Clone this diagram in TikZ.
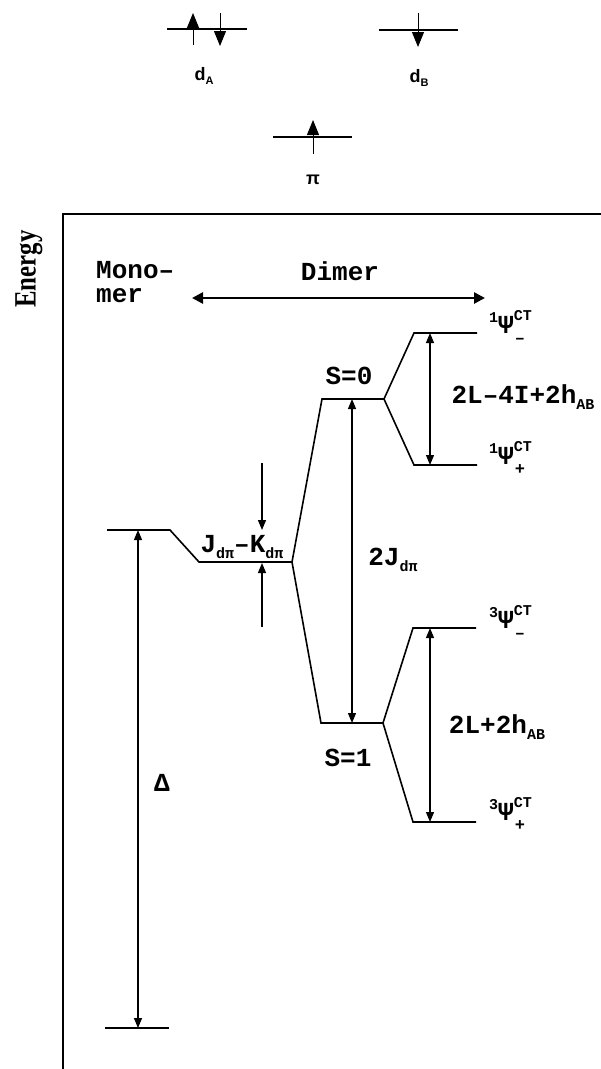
\documentclass[tikz,border=0pt]{standalone}
\usepackage{fontspec}
\setmainfont{Liberation Mono}
\newfontfamily\enfont{Liberation Serif}
\newfontfamily\lblfont{Liberation Sans}
\usetikzlibrary{arrows.meta}
\newcommand\fs[1]{\fontsize{#1}{#1}\selectfont}
\newcommand\sbs[1]{\raisebox{-0.45ex}{\fs{15}\bfseries #1}}
\newcommand\psil[2]{\raisebox{0.8ex}{\fs{15}#1}Ψ\rlap{\raisebox{0.95ex}{\fs{15}CT}}\raisebox{-0.75ex}{\makebox[18pt][l]{\fs{17}\kern1pt#2}}}
\tikzset{
  lvl/.style={line width=2pt},
  lvlthin/.style={line width=1.6pt},
  arr/.style={line width=1.2pt,-{Triangle[length=10pt,width=8pt]}},
  darr/.style={line width=1.2pt,{Triangle[length=10pt,width=8pt]}-{Triangle[length=10pt,width=8pt]}},
  spin/.style={line width=1pt,-{Triangle[length=15pt,width=12pt]}},
  txt/.style={inner sep=0pt,font=\fs{26}\bfseries},
  orb/.style={inner sep=0pt,font=\lblfont\bfseries\fs{18}}
}
\begin{document}
\begin{tikzpicture}[x=1pt,y=-1pt]
\useasboundingbox (0,0) rectangle (601,1069);
\fill[white] (0,0) rectangle (601,1069);

% ---- orbital occupations ----
\coordinate (aL) at (167,29); \coordinate (aR) at (247,29);
\coordinate (bbL) at (379,30); \coordinate (bbR) at (458,30);
\coordinate (pL) at (273,137); \coordinate (pR) at (352,137);
\draw[lvl] (aL) -- (aR);
\draw[lvl] (bbL) -- (bbR);
\draw[lvl] (pL) -- (pR);
\coordinate (a1s) at (193,45); \coordinate (a1e) at (193,13);
\coordinate (a2s) at (220,13); \coordinate (a2e) at (220,46);
\coordinate (b1s) at (418,13); \coordinate (b1e) at (418,47);
\coordinate (p1s) at (313,154); \coordinate (p1e) at (313,120);
\draw[spin] (a1s) -- (a1e);
\draw[spin] (a2s) -- (a2e);
\draw[spin] (b1s) -- (b1e);
\draw[spin] (p1s) -- (p1e);
\node[orb] (dA) at (204,76) {d\raisebox{-0.4ex}{\fs{11}A}};
\node[orb] (dB) at (419,78) {d\raisebox{-0.4ex}{\fs{11}B}};
\node[orb] (pi) at (313,180) {π};

% ---- frame ----
\coordinate (fTL) at (63,214); \coordinate (fTR) at (601,214); \coordinate (fBL) at (63,1069);
\draw[line width=1.6pt] (fBL) -- (fTL) -- (fTR);
\node[rotate=90,inner sep=0pt] (energy) at (29,269) {\scalebox{0.8}[1]{\enfont\bfseries\fs{31}Energy}};

\node[txt,anchor=base west] (mono) at (96,278) {Mono–};
\node[txt,anchor=base west] (mer) at (96,302) {mer};
\node[txt] (dimer) at (340,271) {Dimer};
\coordinate (dl) at (192,298); \coordinate (dr) at (485,298);
\draw[line width=2.6pt,{Triangle[length=11pt,width=11pt]}-{Triangle[length=11pt,width=11pt]}] (dl) -- (dr);

% ---- levels ----
\coordinate (mL) at (107,530); \coordinate (mR) at (170,530);
\coordinate (jL) at (199,562); \coordinate (jR) at (292,562);
\coordinate (s0L) at (322,399); \coordinate (s0R) at (384,399);
\coordinate (s1L) at (321,723); \coordinate (s1R) at (383,723);
\coordinate (smL) at (414,333); \coordinate (smR) at (477,333);
\coordinate (spL) at (414,465); \coordinate (spR) at (477,465);
\coordinate (tmL) at (413,628); \coordinate (tmR) at (476,628);
\coordinate (tpL) at (413,822); \coordinate (tpR) at (476,822);
\coordinate (gL) at (105,1028); \coordinate (gR) at (169,1028);

\draw[lvlthin] (mL) -- (mR) -- (jL) -- (jR) -- (s0L) -- (s0R);
\draw[lvlthin] (jR) -- (s1L) -- (s1R);
\draw[lvlthin] (smR) -- (smL) -- (s0R) -- (spL) -- (spR);
\draw[lvlthin] (tmR) -- (tmL) -- (s1R) -- (tpL) -- (tpR);
\draw[lvlthin] (gL) -- (gR);

% ---- arrows ----
\coordinate (dT) at (138,530); \coordinate (dBt) at (138,1028);
\draw[darr] (dT) -- (dBt);
\coordinate (k1) at (262,463); \coordinate (k1e) at (262,530);
\coordinate (k2) at (262,627); \coordinate (k2e) at (262,563);
\draw[arr] (k1) -- (k1e);
\draw[arr] (k2) -- (k2e);
\coordinate (jT) at (352,399); \coordinate (jB) at (352,723);
\draw[darr] (jT) -- (jB);
\coordinate (sT) at (430,333); \coordinate (sB) at (430,465);
\draw[darr] (sT) -- (sB);
\coordinate (tT) at (430,628); \coordinate (tB) at (430,822);
\draw[darr] (tT) -- (tB);

% ---- labels ----
\node[txt] (delta) at (162,783) {Δ};
\node[txt,anchor=south] (jk) at (242,559) {J\sbs{dπ}–K\sbs{dπ}};
\node[txt] (twoJ) at (393,560) {2J\sbs{dπ}};
\node[txt] (S0) at (349,376) {S=0};
\node[txt] (S1) at (348,758) {S=1};
\node[txt] (sgap) at (523,397) {2L–4I+2h\sbs{AB}};
\node[txt] (tgap) at (497,727) {2L+2h\sbs{AB}};
\node[txt,anchor=west] (p1m) at (489,327) {\psil{1}{–}};
\node[txt,anchor=west] (p1p) at (489,458) {\psil{1}{+}};
\node[txt,anchor=west] (p3m) at (489,622) {\psil{3}{–}};
\node[txt,anchor=west] (p3p) at (489,814) {\psil{3}{+}};
\end{tikzpicture}
\end{document}
